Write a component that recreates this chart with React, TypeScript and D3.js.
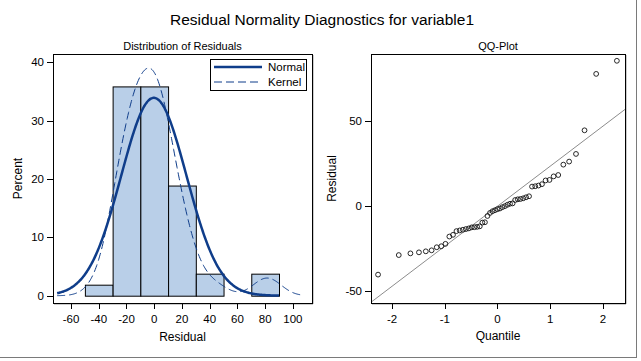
import * as d3 from "d3";

// sorted residuals (n = 53)
const residuals = [
  -40.5, -29.0, -28.0, -27.4, -26.8, -26.2, -24.4, -23.8, -22.4, -18.1,
  -17.1, -14.9, -14.5, -14.1, -13.7, -13.3, -12.7, -12.6, -12.4, -12.1,
  -9.9, -9.7, -6.0, -4.2, -3.2, -2.6, -2.0, -1.6, -0.8, -0.2,
  0.6, 1.2, 1.4, 3.4, 3.8, 4.0, 4.4, 5.0, 5.6, 11.3,
  11.5, 11.9, 12.7, 14.9, 15.2, 17.3, 18.1, 24.2, 26.0, 30.5,
  44.4, 77.6, 85.3,
];

// normal quantiles on the QQ x axis
const normalScores = [
  -2.266, -1.873, -1.652, -1.49, -1.36, -1.25, -1.153, -1.066, -0.987, -0.913,
  -0.844, -0.778, -0.716, -0.656, -0.599, -0.543, -0.489, -0.437, -0.386, -0.336,
  -0.287, -0.238, -0.19, -0.142, -0.094, -0.047, 0,
  0.047, 0.094, 0.142, 0.19, 0.238, 0.287, 0.336, 0.386, 0.437, 0.489,
  0.543, 0.599, 0.656, 0.716, 0.778, 0.844, 0.913, 0.987, 1.066, 1.153,
  1.25, 1.36, 1.49, 1.652, 1.873, 2.266,
];

const binEdges = [-50, -30, -10, 10, 30, 50, 70, 90];
const histXTicks = [-60, -40, -20, 0, 20, 40, 60, 80, 100];
const histYTicks = [0, 10, 20, 30, 40];
const qqXTicks = [-2, -1, 0, 1, 2];
const qqYTicks = [-50, 0, 50];
const normalRange = [-70, 90];
const kernelRange = [-70, 108];
const kernelBandwidth = 9.1;

const FONT = "'Liberation Sans', Arial, Helvetica, sans-serif";
const NAVY = "#0f3d8a";

const L = { x0: 53, x1: 312, y0: 54, y1: 303 };
const R = { x0: 371, x1: 625, y0: 54, y1: 303 };

const Frame = ({ b }: { b: typeof L }) => (
  <g>
    <line x1={b.x0 + 1} x2={b.x1 + 1} y1={b.y1 + 1} y2={b.y1 + 1} stroke="#9a9a9a" />
    <line x1={b.x1 + 1} x2={b.x1 + 1} y1={b.y0 + 1} y2={b.y1 + 1} stroke="#9a9a9a" />
    <rect x={b.x0 + 0.5} y={b.y0 + 0.5} width={b.x1 - b.x0} height={b.y1 - b.y0} fill="none" stroke="#000" />
  </g>
);

export default function App() {
  const n = residuals.length;
  const binWidth = binEdges[1] - binEdges[0];
  const mean = d3.mean(residuals) as number;
  const sd = d3.deviation(residuals) as number;

  // histogram panel
  const hx = d3.scaleLinear().domain([-73, 113.8]).range([L.x0, L.x1]);
  const hy = d3.scaleLinear().domain([-1.25, 41.4]).range([L.y1, L.y0]);
  const bins = d3
    .bin()
    .domain([binEdges[0], binEdges[binEdges.length - 1]])
    .thresholds(binEdges.slice(1, -1))(residuals);

  const pdf = (x: number, m: number, s: number) =>
    Math.exp(-0.5 * ((x - m) / s) ** 2) / (s * Math.sqrt(2 * Math.PI));
  const scalePct = binWidth * 100;

  const normalPts = d3
    .range(normalRange[0], normalRange[1] + 0.01, 0.5)
    .map((x) => [x, pdf(x, mean, sd) * scalePct] as [number, number]);
  const kernelPts = d3
    .range(kernelRange[0], kernelRange[1] + 0.01, 0.5)
    .map((x) => [x, (d3.sum(residuals, (r) => pdf(x, r, kernelBandwidth)) / n) * scalePct] as [number, number]);

  const curve = d3
    .line<[number, number]>()
    .x((d) => hx(d[0]))
    .y((d) => hy(d[1]))
    .curve(d3.curveMonotoneX);

  // qq panel
  const qx = d3.scaleLinear().domain([-2.4, 2.42]).range([R.x0, R.x1]);
  const qy = d3.scaleLinear().domain([-57.2, 89.3]).range([R.y1, R.y0]);
  const refDom = qx.domain();

  return (
    <svg
      width={641}
      height={361}
      style={{ position: "absolute", left: 0, top: 0, background: "#fff" }}
      fontFamily={FONT}
    >
      <defs>
        <clipPath id="qqclip">
          <rect x={R.x0} y={R.y0} width={R.x1 - R.x0} height={R.y1 - R.y0} />
        </clipPath>
        <clipPath id="hclip">
          <rect x={L.x0} y={L.y0} width={L.x1 - L.x0} height={L.y1 - L.y0} />
        </clipPath>
      </defs>
      <rect x={0} y={0} width={641} height={361} fill="#fff" />
      {/* outer border */}
      <line x1={0} x2={637} y1={357.5} y2={357.5} stroke="#7a7a7a" />
      <line x1={636.5} x2={636.5} y1={0} y2={358} stroke="#7a7a7a" />

      <text x={322} y={25} textAnchor="middle" fontSize={15.5}>
        Residual Normality Diagnostics for variable1
      </text>

      {/* ---- histogram ---- */}
      <text x={(L.x0 + L.x1) / 2} y={50} textAnchor="middle" fontSize={11}>
        Distribution of Residuals
      </text>
      <rect x={L.x0} y={L.y0} width={L.x1 - L.x0} height={L.y1 - L.y0} fill="#fff" />
      <g clipPath="url(#hclip)">
        {bins.map((b, i) => {
          const pct = (b.length / n) * 100;
          return (
            <rect
              key={i}
              x={hx(b.x0 as number) + 0.5}
              y={hy(pct) + 0.5}
              width={hx(b.x1 as number) - hx(b.x0 as number)}
              height={hy(0) - hy(pct)}
              fill="#b9cfe8"
              stroke="#000"
            />
          );
        })}
        <path d={curve(kernelPts) as string} fill="none" stroke={NAVY} strokeWidth={1} strokeDasharray="8,4" />
        <path d={curve(normalPts) as string} fill="none" stroke={NAVY} strokeWidth={2.5} />
      </g>

      {/* legend */}
      <rect x={211} y={60} width={96} height={31} fill="#9a9a9a" />
      <rect x={210.5} y={59.5} width={96} height={31} fill="#fff" stroke="#000" />
      <line x1={214} x2={262} y1={67} y2={67} stroke={NAVY} strokeWidth={2.5} />
      <text x={268} y={71} fontSize={11.5}>Normal</text>
      <line x1={214} x2={262} y1={82} y2={82} stroke={NAVY} strokeWidth={1} strokeDasharray="8,4" />
      <text x={268} y={86} fontSize={11.5}>Kernel</text>

      <Frame b={L} />
      {histYTicks.map((t) => (
        <g key={t}>
          <line x1={L.x0 - 6} x2={L.x0} y1={Math.round(hy(t)) + 0.5} y2={Math.round(hy(t)) + 0.5} stroke="#000" />
          <text x={L.x0 - 9} y={hy(t) + 4} textAnchor="end" fontSize={11.5}>{`${t}`}</text>
        </g>
      ))}
      {histXTicks.map((t) => (
        <g key={t}>
          <line x1={Math.round(hx(t)) + 0.5} x2={Math.round(hx(t)) + 0.5} y1={L.y1 + 1} y2={L.y1 + 6} stroke="#000" />
          <text x={hx(t)} y={323} textAnchor="middle" fontSize={11.5}>{`${t}`}</text>
        </g>
      ))}
      <text x={(L.x0 + L.x1) / 2} y={341} textAnchor="middle" fontSize={12}>Residual</text>
      <text transform={`translate(22,${(L.y0 + L.y1) / 2}) rotate(-90)`} textAnchor="middle" fontSize={12}>
        Percent
      </text>

      {/* ---- QQ plot ---- */}
      <text x={(R.x0 + R.x1) / 2} y={50} textAnchor="middle" fontSize={11}>QQ-Plot</text>
      <g clipPath="url(#qqclip)">
        <line
          x1={qx(refDom[0])}
          y1={qy(mean + sd * refDom[0])}
          x2={qx(refDom[1])}
          y2={qy(mean + sd * refDom[1])}
          stroke="#8c8c8c"
        />
        {residuals.map((r, i) => (
          <circle key={i} cx={qx(normalScores[i])} cy={qy(r)} r={2.4} fill="none" stroke="#111" strokeWidth={0.9} />
        ))}
      </g>
      <Frame b={R} />
      {qqYTicks.map((t) => (
        <g key={t}>
          <line x1={R.x0 - 6} x2={R.x0} y1={Math.round(qy(t)) + 0.5} y2={Math.round(qy(t)) + 0.5} stroke="#000" />
          <text x={R.x0 - 9} y={qy(t) + 4} textAnchor="end" fontSize={11.5}>{`${t}`}</text>
        </g>
      ))}
      {qqXTicks.map((t) => (
        <g key={t}>
          <line x1={Math.round(qx(t)) + 0.5} x2={Math.round(qx(t)) + 0.5} y1={R.y1 + 1} y2={R.y1 + 6} stroke="#000" />
          <text x={qx(t)} y={323} textAnchor="middle" fontSize={11.5}>{`${t}`}</text>
        </g>
      ))}
      <text x={(R.x0 + R.x1) / 2} y={340} textAnchor="middle" fontSize={12}>Quantile</text>
      <text transform={`translate(336,${(R.y0 + R.y1) / 2}) rotate(-90)`} textAnchor="middle" fontSize={12}>
        Residual
      </text>
    </svg>
  );
}
